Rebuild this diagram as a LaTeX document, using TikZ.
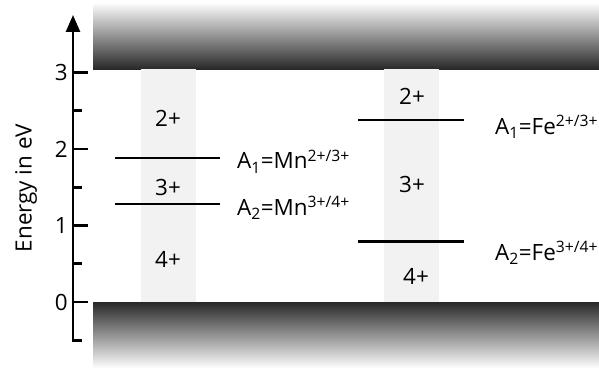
\documentclass[tikz,border=0pt]{standalone}
\usepackage{fontspec}
\setmainfont{Open Sans}
\usetikzlibrary{arrows.meta}

\begin{document}
\begin{tikzpicture}[x=1bp,y=76.5bp,
    txt/.style={font=\fontsize{22.5}{27}\selectfont, inner sep=0pt},
    level/.style={black, line width=2.4bp},
    tick/.style={black, line width=2.6bp}]
    \useasboundingbox (0,3.948) rectangle (599,-0.876);

    % bands
    \shade[top color=white, bottom color=black!84] (93,3.92) rectangle (599,3.046);
    \shade[top color=black!84, bottom color=white] (93,0) rectangle (599,-0.87);
    \fill[black!5] (141,0) rectangle (196,3.046);
    \fill[black!5] (384,0) rectangle (439,3.046);

    % energy axis
    \coordinate (foot) at (82,-0.5);
    \coordinate (corner) at (73,-0.5);
    \coordinate (top) at (73,3.752);
    \draw[tick, -{Triangle[length=17bp,width=14bp]}] (foot) -- (corner) -- (top);
    \foreach \e in {0,1,2,3} {
        \draw[tick] (73,\e) -- (88,\e);
        \node[txt, anchor=east] (t\e) at (68,\e) {\e};
    }
    \foreach \e in {0.5,1.5,2.5}
        \draw[tick] (73,\e) -- (82,\e);
    \node[txt, rotate=90] (axis) at (26,1.49) {Energy in eV};

    % Mn levels
    \coordinate (mn1a) at (115,1.88);
    \coordinate (mn1b) at (220,1.88);
    \coordinate (mn2a) at (115,1.28);
    \coordinate (mn2b) at (220,1.28);
    \draw[level] (mn1a) -- (mn1b);
    \draw[level] (mn2a) -- (mn2b);
    \node[txt] (mnII) at (168,2.405) {2+};
    \node[txt] (mnIII) at (168,1.503) {3+};
    \node[txt] (mnIV) at (168,0.562) {4+};
    \node[txt, anchor=base west] (mnA1) at (237,1.739) {A\textsubscript{1}=Mn\textsuperscript{2+/3+}};
    \node[txt, anchor=base west] (mnA2) at (237,1.137) {A\textsubscript{2}=Mn\textsuperscript{3+/4+}};

    % Fe levels
    \coordinate (fe1a) at (358,2.38);
    \coordinate (fe1b) at (464,2.38);
    \coordinate (fe2a) at (358,0.79);
    \coordinate (fe2b) at (464,0.79);
    \draw[level] (fe1a) -- (fe1b);
    \draw[level] (fe2a) -- (fe2b);
    \node[txt] (feII) at (412,2.693) {2+};
    \node[txt] (feIII) at (412,1.542) {3+};
    \node[txt] (feIV) at (416,0.34) {4+};
    \node[txt, anchor=base west] (feA1) at (495,2.196) {A\textsubscript{1}=Fe\textsuperscript{2+/3+}};
    \node[txt, anchor=base west] (feA2) at (495,0.549) {A\textsubscript{2}=Fe\textsuperscript{3+/4+}};
\end{tikzpicture}
\end{document}
